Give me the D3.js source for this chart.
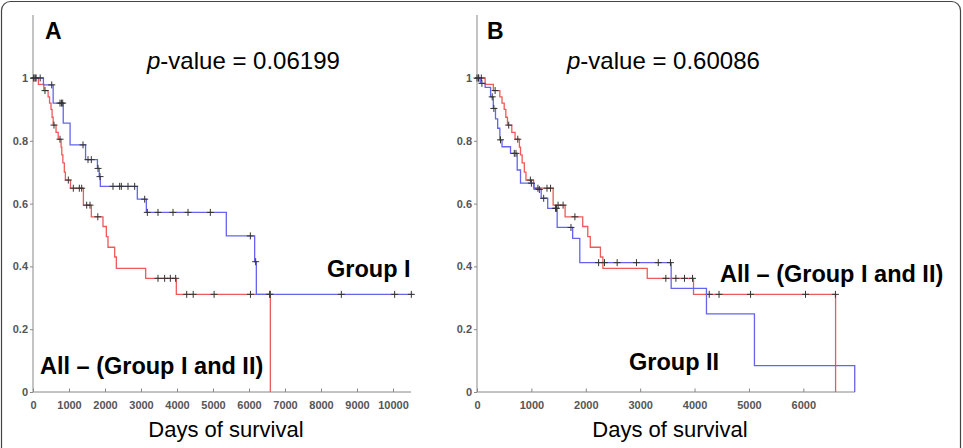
<!DOCTYPE html>
<html>
<head>
<meta charset="utf-8">
<script src="https://cdn.jsdelivr.net/npm/d3@7"></script>
<style>
  body { margin: 0; background: #fff; }
  svg { display: block; font-family: "Liberation Sans", Arial, sans-serif; }
</style>
</head>
<body>
<svg id="plot" width="963" height="448"></svg>
<script>
// Kaplan-Meier steps: [day, survival after the drop]
const redSteps = [
    [150, 0.98], [300, 0.96], [420, 0.94], [460, 0.92], [500, 0.90], [530, 0.875],
    [560, 0.85], [640, 0.827], [700, 0.805], [780, 0.78], [800, 0.755], [830, 0.73],
    [870, 0.70], [900, 0.675], [1040, 0.649], [1400, 0.595], [1620, 0.558],
    [1944, 0.527], [2037, 0.495], [2083, 0.461], [2269, 0.43], [2315, 0.394],
    [3130, 0.362], [3981, 0.311], [6593, 0]
]
const redCensors = [
    [30, 1], [80, 1], [333, 0.96], [583, 0.85], [750, 0.805], [981, 0.675],
    [1120, 0.649], [1287, 0.649], [1352, 0.649], [1491, 0.595], [1583, 0.595],
    [1800, 0.558], [3472, 0.362], [3657, 0.362], [3815, 0.362], [3963, 0.362],
    [4270, 0.311], [4450, 0.311], [5030, 0.311], [6040, 0.311], [6590, 0.311]
]

const groupISteps = [
    [290, 0.978], [560, 0.92], [840, 0.856], [1030, 0.787], [1460, 0.74],
    [1790, 0.712], [1840, 0.686], [1870, 0.655], [2898, 0.614], [3148, 0.572],
    [5370, 0.497], [6157, 0.415], [6204, 0.311]
]
const groupIEnd = 10550
const groupICensors = [
    [20, 1], [80, 1], [200, 1], [520, 0.978], [750, 0.92], [790, 0.92], [825, 0.92],
    [1389, 0.787], [1528, 0.74], [1620, 0.74], [1806, 0.712], [1861, 0.686],
    [2222, 0.655], [2407, 0.655], [2454, 0.655], [2639, 0.655], [2824, 0.655],
    [3102, 0.614], [3176, 0.572], [3472, 0.572], [3889, 0.572], [4306, 0.572],
    [4926, 0.572], [6037, 0.497], [6185, 0.415], [6574, 0.311], [8565, 0.311],
    [10046, 0.311], [10509, 0.311]
]

const groupIISteps = [
    [60, 0.983], [150, 0.97], [250, 0.94], [300, 0.903], [340, 0.87], [380, 0.84],
    [420, 0.803], [460, 0.781], [616, 0.76], [739, 0.707], [800, 0.665],
    [1050, 0.645], [1180, 0.617], [1300, 0.585], [1474, 0.524], [1759, 0.489],
    [1890, 0.412], [3570, 0.33], [4219, 0.249], [5101, 0.084], [6945, 0]
]
const groupIICensors = [
    [0, 1], [30, 1], [90, 0.983], [280, 0.94], [310, 0.903], [432, 0.803],
    [686, 0.76], [717, 0.76], [1000, 0.665], [1146, 0.645], [1226, 0.617],
    [1443, 0.585], [1461, 0.585], [1728, 0.524], [2236, 0.412], [2344, 0.412],
    [2577, 0.412], [2932, 0.412], [3333, 0.412], [3557, 0.412]
]

const yTicks = [0, 0.2, 0.4, 0.6, 0.8, 1]
const xTicksA = d3.range(0, 10001, 1000)
const xTicksB = d3.range(0, 6001, 1000)

const red = "#ee5a5a"
const blue = "#6464ee"

const svg = d3.select("#plot");

// outer frame
svg.append("rect")
    .attr("x", 1.5).attr("y", 1.5)
    .attr("width", 959).attr("height", 470)
    .attr("rx", 9)
    .attr("fill", "none")
    .attr("stroke", "#444")
    .attr("stroke-width", 1.2);

function stepPoints(steps, end) {
    const pts = [[0, 1], ...steps]
    const last = pts[pts.length - 1]
    if (end > last[0]) pts.push([end, last[1]])
    return pts
}

function panel(opt) {
    const x = d3.scaleLinear().domain([0, opt.xMax]).range([opt.left, opt.right])
    const y = d3.scaleLinear().domain([0, 1.2]).range([392, 15.2])
    const g = svg.append("g")

    // axes
    g.append("g")
        .attr("transform", "translate(0,392)")
        .call(d3.axisBottom(x).tickValues(opt.xTicks).tickSize(-3.5).tickPadding(9)
            .tickFormat(d3.format("d")))
        .call(a => a.select(".domain").attr("stroke", "#888").attr("d", `M${opt.left},0H${opt.right}`))
    g.append("g")
        .attr("transform", `translate(${opt.left},0)`)
        .call(d3.axisLeft(y).tickValues(yTicks).tickSize(3).tickPadding(2)
            .tickFormat(d => d === 0 || d === 1 ? d : d3.format(".1f")(d)))
        .call(a => a.select(".domain").attr("stroke", "#888").attr("d", "M0,392V15"))
    g.selectAll(".tick line").attr("stroke", "#888")
    g.selectAll(".tick text")
        .attr("fill", "#555")
        .attr("font-size", 11)
        .attr("font-weight", "bold")
        .attr("font-family", "Liberation Sans, Arial, sans-serif")

    const line = d3.line().curve(d3.curveStepAfter).x(d => x(d[0])).y(d => y(d[1]))

    opt.curves.forEach(c => {
        g.append("path")
            .datum(stepPoints(c.steps, c.end))
            .attr("fill", "none")
            .attr("stroke", c.color)
            .attr("stroke-width", 1.3)
            .attr("d", line)
        g.append("g").selectAll("path")
            .data(c.censors)
            .join("path")
            .attr("d", d => `M${x(d[0]) - 3.5},${y(d[1])}h7M${x(d[0])},${y(d[1]) - 3.5}v7`)
            .attr("stroke", "#333")
            .attr("stroke-width", 1)
    })

    g.append("text")
        .attr("x", opt.letterX).attr("y", 39)
        .attr("font-size", 23).attr("font-weight", "bold")
        .text(opt.letter)

    const p = g.append("text")
        .attr("x", opt.pX).attr("y", 69)
        .attr("font-size", 24)
    p.append("tspan").attr("font-style", "italic").text("p")
    p.append("tspan").text("-value = " + opt.pValue)

    g.append("text")
        .attr("x", (opt.left + opt.right) / 2 + 4).attr("y", 437)
        .attr("text-anchor", "middle")
        .attr("font-size", 22)
        .text("Days of survival")

    opt.labels.forEach(l => {
        g.append("text")
            .attr("x", l.x).attr("y", l.y)
            .attr("font-size", 23.5).attr("font-weight", "bold")
            .text(l.text)
    })
}

panel({
    xMax: 10500, left: 33, right: 411, xTicks: xTicksA,
    letter: "A", letterX: 45, pX: 147, pValue: "0.06199",
    curves: [
        { steps: redSteps, end: 6593, censors: redCensors, color: red },
        { steps: groupISteps, end: groupIEnd, censors: groupICensors, color: blue }
    ],
    labels: [
        { text: "Group I", x: 327, y: 277 },
        { text: "All \u2013 (Group I and II)", x: 40, y: 374 }
    ]
})

panel({
    xMax: 6950, left: 477, right: 855, xTicks: xTicksB,
    letter: "B", letterX: 487, pX: 567, pValue: "0.60086",
    curves: [
        { steps: redSteps, end: 6593, censors: redCensors, color: red },
        { steps: groupIISteps, end: 6945, censors: groupIICensors, color: blue }
    ],
    labels: [
        { text: "All \u2013 (Group I and II)", x: 720, y: 282 },
        { text: "Group II", x: 629, y: 370 }
    ]
})
</script>
</body>
</html>
